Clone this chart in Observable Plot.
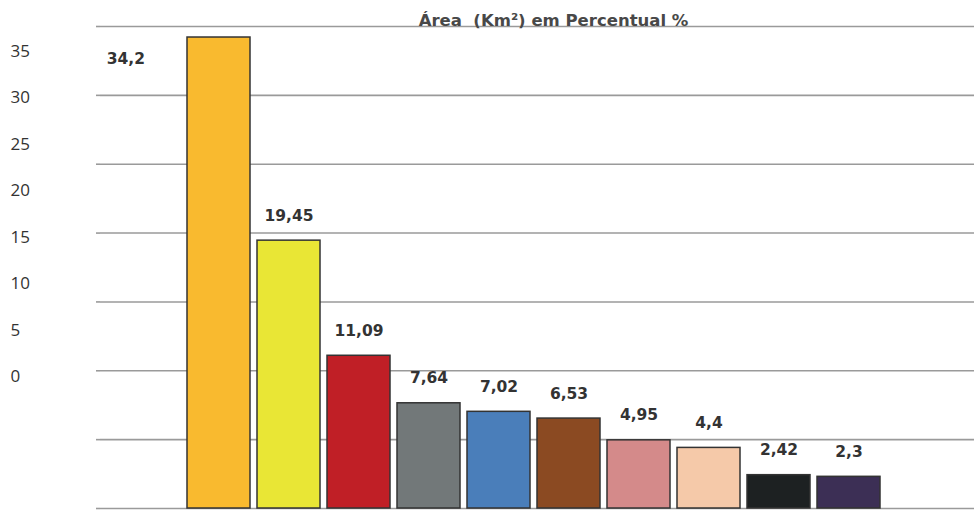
<!DOCTYPE html>
<html>
<head>
<meta charset="utf-8">
<script src="https://cdn.jsdelivr.net/npm/d3@7"></script>
<script src="https://cdn.jsdelivr.net/npm/@observablehq/plot@0.6"></script>
<style>
  html, body { margin: 0; padding: 0; background: #fff; }
  #chart { position: relative; width: 974px; height: 510px; }
  #chart svg { display: block; }
  #chart .labels { position: absolute; left: 0; top: 0; pointer-events: none; }
</style>
</head>
<body>
<div id="chart"></div>
<script>
const title = "Área  (Km²) em Percentual %";
const categories = ["c1", "c2", "c3", "c4", "c5", "c6", "c7", "c8", "c9", "c10"];
const values = [34.2, 19.45, 11.09, 7.64, 7.02, 6.53, 4.95, 4.4, 2.42, 2.3];
const colors = ["#F9BA2F", "#E9E635", "#C01F26", "#727879", "#4A7EBA", "#8B4A22", "#D48A8A", "#F5C9A9", "#1D2122", "#3C2F55"];
const yTicks = [0, 5, 10, 15, 20, 25, 30, 35];

const data = categories.map((c, i) => ({cat: c, value: values[i], color: colors[i]}));
const yMax = 35;
const fits = data.filter(d => d.value < yMax - 2);
const overflow = data.filter(d => d.value >= yMax - 2);
const fmt = v => String(v).replace(".", ",");

const chart = Plot.plot({
  width: 974,
  height: 510,
  marginLeft: 100,
  marginRight: 0,
  marginTop: 26,
  marginBottom: 2,
  style: {fontFamily: "DejaVu Sans", background: "#fff"},
  x: {domain: categories, paddingInner: 0.1, paddingOuter: 1.284, align: 0.483, axis: null, label: null},
  y: {domain: [0, yMax], axis: null, label: null},
  marks: [
    Plot.gridY(yTicks, {stroke: "#9a9a9a", strokeOpacity: 1, strokeWidth: 1.6}),
    Plot.axisY(yTicks, {tickSize: 4, tickFormat: () => "", stroke: "#9a9a9a", strokeWidth: 1.6, label: null}),
    Plot.ruleX([0], {frameAnchor: "left", stroke: "#9a9a9a", strokeWidth: 1.6}),
    Plot.barY(data, {x: "cat", y: "value", fill: "color", stroke: "#333", strokeWidth: 1.5}),
    Plot.text(fits, {x: "cat", y: "value", text: d => fmt(d.value), dy: -25,
      fontWeight: "bold", fontSize: 15.5, fill: "#333"}),
    Plot.text(overflow, {x: "cat", y: "value", text: d => fmt(d.value), textAnchor: "end", dx: -74, dy: 22,
      fontWeight: "bold", fontSize: 15.5, fill: "#333"}),
    Plot.text([title], {frameAnchor: "top", text: d => d, dx: 16, dy: -1, lineAnchor: "bottom",
      fontWeight: "bold", fontSize: 16.5, fill: "#484848"})
  ]
});

// The reference's tick labels sit on their own (offset) scale to the left of the axis
const labels = Plot.plot({
  width: 90,
  height: 510,
  marginLeft: 0,
  marginRight: 0,
  marginTop: 51,
  marginBottom: 134,
  style: {background: "transparent", fontFamily: "Open Sans"},
  y: {domain: [0, yMax], axis: null, label: null},
  marks: [
    Plot.text(yTicks, {y: d => d, text: d => String(d), frameAnchor: "left", textAnchor: "start", dx: 10,
      fontSize: 17, fill: "#333"})
  ]
});
labels.classList.add("labels");

const root = document.getElementById("chart");
root.appendChild(chart);
root.appendChild(labels);
</script>
</body>
</html>
